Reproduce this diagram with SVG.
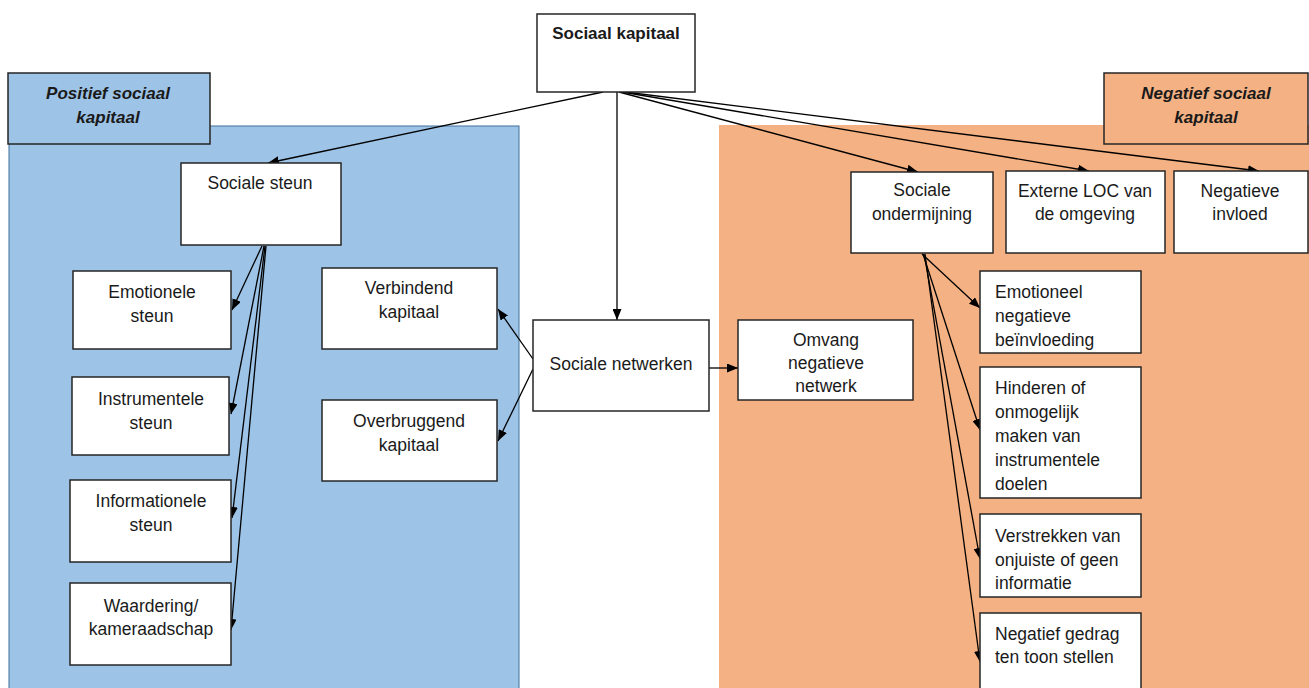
<svg xmlns="http://www.w3.org/2000/svg" width="1309" height="688" viewBox="0 0 1309 688">
<style>
.box{fill:#fff;stroke:#262626;stroke-width:1.5}
.t{font-family:"Liberation Sans",Arial,sans-serif;font-size:17.5px;fill:#1a1a1a}
.c{text-anchor:middle}
.h{font-family:"Liberation Sans",Arial,sans-serif;font-size:17px;font-weight:bold;font-style:italic;fill:#1a1a1a;text-anchor:middle}
.b{font-family:"Liberation Sans",Arial,sans-serif;font-size:17px;font-weight:bold;fill:#1a1a1a;text-anchor:middle}
.ln{stroke:#000;stroke-width:1.3;fill:none;marker-end:url(#ah)}
</style>
<defs>
<marker id="ah" markerUnits="userSpaceOnUse" markerWidth="11" markerHeight="9" refX="11" refY="4.5" orient="auto">
<path d="M0,0 L11,4.5 L0,9 z" fill="#000"/>
</marker>
</defs>
<rect width="1309" height="688" fill="#fff"/>
<g id="panels">
<rect x="9" y="126" width="510" height="570" fill="#9DC3E6" stroke="#41719C" stroke-width="1"/>
<rect x="719" y="125" width="595" height="570" fill="#F4B183"/>
</g>
<g id="header-positief">
<rect x="8" y="73" width="202" height="71" fill="#9DC3E6" stroke="#262626" stroke-width="1.5"/>
<text class="h" x="108" y="99">Positief sociaal</text>
<text class="h" x="108" y="123">kapitaal</text>
</g>
<g id="header-negatief">
<rect x="1104" y="73" width="204" height="71" fill="#F4B183" stroke="#262626" stroke-width="1.5"/>
<text class="h" x="1206" y="99">Negatief sociaal</text>
<text class="h" x="1206" y="123">kapitaal</text>
</g>
<g id="connectors">
<line class="ln" x1="603" y1="92" x2="268" y2="163"/>
<line class="ln" x1="617" y1="92" x2="617" y2="320"/>
<line class="ln" x1="619" y1="92" x2="918" y2="172"/>
<line class="ln" x1="622" y1="92" x2="1089" y2="171"/>
<line class="ln" x1="625" y1="92" x2="1259" y2="171"/>
<line class="ln" x1="262" y1="246" x2="232" y2="310"/>
<line class="ln" x1="264" y1="246" x2="231" y2="414"/>
<line class="ln" x1="265" y1="246" x2="232" y2="518"/>
<line class="ln" x1="266" y1="246" x2="231" y2="630"/>
<line class="ln" x1="533" y1="359" x2="498" y2="309"/>
<line class="ln" x1="533" y1="369" x2="498" y2="441"/>
<line class="ln" x1="709" y1="368" x2="738" y2="368"/>
<line class="ln" x1="922" y1="254" x2="980" y2="308"/>
<line class="ln" x1="923" y1="254" x2="980" y2="430"/>
<line class="ln" x1="924" y1="254" x2="980" y2="559"/>
<line class="ln" x1="925" y1="254" x2="980" y2="662"/>
</g>
<g id="sociaal-kapitaal">
<rect class="box" x="537" y="14" width="158" height="78"/>
<text class="b" x="616" y="39">Sociaal kapitaal</text>
</g>
<g id="sociale-steun">
<rect class="box" x="181" y="163" width="160" height="82"/>
<text class="t c" x="260" y="189">Sociale steun</text>
</g>
<g id="emotionele-steun">
<rect class="box" x="73" y="271" width="158" height="78"/>
<text class="t c" x="152" y="298">Emotionele</text>
<text class="t c" x="152" y="322">steun</text>
</g>
<g id="instrumentele-steun">
<rect class="box" x="72" y="377" width="157" height="78"/>
<text class="t c" x="151" y="405">Instrumentele</text>
<text class="t c" x="151" y="429">steun</text>
</g>
<g id="informationele-steun">
<rect class="box" x="70" y="480" width="161" height="82"/>
<text class="t c" x="151" y="507">Informationele</text>
<text class="t c" x="151" y="531">steun</text>
</g>
<g id="waardering">
<rect class="box" x="70" y="583" width="161" height="82"/>
<text class="t c" x="151" y="612">Waardering/</text>
<text class="t c" x="151" y="635">kameraadschap</text>
</g>
<g id="verbindend-kapitaal">
<rect class="box" x="322" y="268" width="175" height="81"/>
<text class="t c" x="409" y="294">Verbindend</text>
<text class="t c" x="409" y="318">kapitaal</text>
</g>
<g id="overbruggend-kapitaal">
<rect class="box" x="322" y="400" width="175" height="81"/>
<text class="t c" x="409" y="427">Overbruggend</text>
<text class="t c" x="409" y="451">kapitaal</text>
</g>
<g id="sociale-netwerken">
<rect class="box" x="533" y="320" width="176" height="91"/>
<text class="t c" x="621" y="370">Sociale netwerken</text>
</g>
<g id="omvang-negatieve-netwerk">
<rect class="box" x="738" y="320" width="175" height="80"/>
<text class="t c" x="826" y="346">Omvang</text>
<text class="t c" x="826" y="369">negatieve</text>
<text class="t c" x="826" y="392">netwerk</text>
</g>
<g id="sociale-ondermijning">
<rect class="box" x="851" y="172" width="142" height="81"/>
<text class="t c" x="922" y="196">Sociale</text>
<text class="t c" x="922" y="220">ondermijning</text>
</g>
<g id="externe-loc">
<rect class="box" x="1006" y="171" width="159" height="82"/>
<text class="t c" x="1085" y="197">Externe LOC van</text>
<text class="t c" x="1085" y="220">de omgeving</text>
</g>
<g id="negatieve-invloed">
<rect class="box" x="1174" y="171" width="134" height="82"/>
<text class="t c" x="1240" y="197">Negatieve</text>
<text class="t c" x="1240" y="220">invloed</text>
</g>
<g id="emotioneel-negatieve">
<rect class="box" x="980" y="271" width="161" height="82"/>
<text class="t" x="995" y="298">Emotioneel</text>
<text class="t" x="995" y="322">negatieve</text>
<text class="t" x="995" y="346">beïnvloeding</text>
</g>
<g id="hinderen">
<rect class="box" x="980" y="367" width="161" height="131"/>
<text class="t" x="995" y="394">Hinderen of</text>
<text class="t" x="995" y="418">onmogelijk</text>
<text class="t" x="995" y="442">maken van</text>
<text class="t" x="995" y="466">instrumentele</text>
<text class="t" x="995" y="490">doelen</text>
</g>
<g id="verstrekken">
<rect class="box" x="980" y="514" width="161" height="83"/>
<text class="t" x="995" y="542">Verstrekken van</text>
<text class="t" x="995" y="566">onjuiste of geen</text>
<text class="t" x="995" y="589">informatie</text>
</g>
<g id="negatief-gedrag">
<rect class="box" x="980" y="613" width="161" height="90"/>
<text class="t" x="995" y="640">Negatief gedrag</text>
<text class="t" x="995" y="663">ten toon stellen</text>
</g>
</svg>
